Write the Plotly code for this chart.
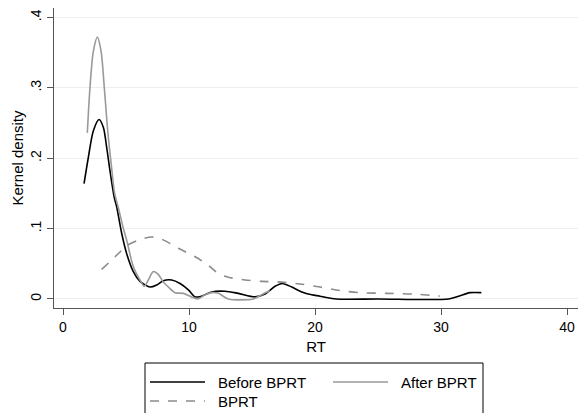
import plotly.graph_objects as go

# ---- data ----
before_x = [1.67, 2.01, 2.41, 2.86, 3.2, 3.47, 3.73, 4.07, 4.26, 4.66, 5.06, 5.58, 6.11, 6.51, 6.9,
            7.44, 7.96, 8.63, 9.29, 9.95, 10.48, 11.0, 11.8, 12.86, 13.9, 15.24, 16.03, 16.83, 17.4,
            18.15, 18.95, 19.74, 20.4, 20.9, 21.7, 25.0, 30.6, 31.4, 32.3, 33.2]
before_y = [0.164, 0.201, 0.239, 0.255, 0.244, 0.215, 0.182, 0.144, 0.131, 0.093, 0.064, 0.039, 0.025,
            0.020, 0.017, 0.020, 0.026, 0.027, 0.022, 0.013, 0.003, 0.004, 0.010, 0.011, 0.008, 0.003,
            0.007, 0.018, 0.022, 0.017, 0.010, 0.006, 0.004, 0.002, 0.0, 0.0, 0.0, 0.004, 0.009, 0.009]

after_x = [1.93, 2.14, 2.41, 2.73, 3.02, 3.28, 3.55, 3.86, 4.1, 4.39, 4.75, 5.06, 5.58, 6.11, 6.45,
           6.77, 7.17, 7.56, 7.96, 8.36, 8.89, 9.55, 10.2, 10.7, 11.27, 11.8, 12.33, 13.12, 15.1,
           15.77, 16.4]
after_y = [0.236, 0.300, 0.352, 0.372, 0.352, 0.300, 0.239, 0.186, 0.150, 0.130, 0.103, 0.083, 0.046,
           0.027, 0.018, 0.027, 0.039, 0.035, 0.024, 0.017, 0.009, 0.008, 0.003, 0.0, 0.006, 0.009,
           0.008, 0.0, 0.0, 0.006, 0.012]

bprt_x = [3.07, 4.13, 5.18, 6.24, 7.04, 7.83, 9.15, 10.48, 11.53, 12.33, 13.12, 14.44, 15.77, 17.36,
          18.95, 20.4, 21.98, 23.57, 25.7, 27.8, 29.9]
bprt_y = [0.042, 0.060, 0.077, 0.085, 0.088, 0.085, 0.072, 0.060, 0.048, 0.036, 0.031, 0.027, 0.025,
          0.024, 0.021, 0.017, 0.012, 0.009, 0.008, 0.007, 0.004]

x_ticks = [0, 10, 20, 30, 40]
y_ticks = [0, 0.1, 0.2, 0.3, 0.4]
y_tick_text = ["0", ".1", ".2", ".3", ".4"]

series_names = ["Before BPRT", "After BPRT", "BPRT"]
series_colors = ["#000000", "#9a9a9a", "#8c8c8c"]
series_dash = ["solid", "solid", "dash"]

FONT = "Liberation Sans, Arial, sans-serif"

fig = go.Figure()
for xs, ys, name, col, dash in zip([before_x, after_x, bprt_x], [before_y, after_y, bprt_y],
                                   series_names, series_colors, series_dash):
    fig.add_trace(go.Scatter(x=xs, y=ys, mode="lines", name=name,
                             line=dict(color=col, width=1.6, dash=dash, shape="spline", smoothing=0.8),
                             showlegend=False))

# plot area in pixels
L, R, T, B = 54, 578, 8, 308
W, H = 582, 413


def pxx(p):
    return (p - L) / (R - L)


def pxy(p):
    return (B - p) / (B - T)


shapes = [dict(type="rect", xref="paper", yref="paper", x0=pxx(145), x1=pxx(483), y0=pxy(420), y1=pxy(363),
               line=dict(color="#000000", width=1), fillcolor="rgba(0,0,0,0)")]
annotations = []
legend_pos = [(150, 382), (333, 382), (150, 401)]
for (lx, ly), name, col, dash in zip(legend_pos, series_names, series_colors, series_dash):
    shapes.append(dict(type="line", xref="paper", yref="paper", x0=pxx(lx), x1=pxx(lx + 55),
                       y0=pxy(ly), y1=pxy(ly), line=dict(color=col, width=1.6, dash=dash)))
    annotations.append(dict(xref="paper", yref="paper", x=pxx(lx + 66), y=pxy(ly), text=name,
                            showarrow=False, xanchor="left", yanchor="middle",
                            font=dict(family=FONT, size=15, color="#000000")))

fig.update_layout(
    width=W, height=H,
    margin=dict(l=L, r=W - R, t=T, b=H - B, pad=0),
    paper_bgcolor="white", plot_bgcolor="white",
    font=dict(family=FONT, size=14, color="#000000"),
    shapes=shapes, annotations=annotations,
    xaxis=dict(range=[-0.714, 40.87], tickvals=x_ticks, showgrid=False, zeroline=False,
               showline=True, linecolor="#555555", linewidth=1, ticks="outside", ticklen=6,
               tickcolor="#555555", tickfont=dict(size=14),
               title=dict(text="RT", font=dict(size=15), standoff=7)),
    yaxis=dict(range=[-0.0128, 0.4134], tickvals=y_ticks, ticktext=y_tick_text, tickangle=-90,
               showgrid=True, gridcolor="#eeeeee", gridwidth=1, zeroline=False,
               showline=True, linecolor="#555555", linewidth=1, ticks="outside", ticklen=6,
               tickcolor="#555555", tickfont=dict(size=14),
               title=dict(text="Kernel density", font=dict(size=15), standoff=1)),
)

fig.write_html("out.html")
